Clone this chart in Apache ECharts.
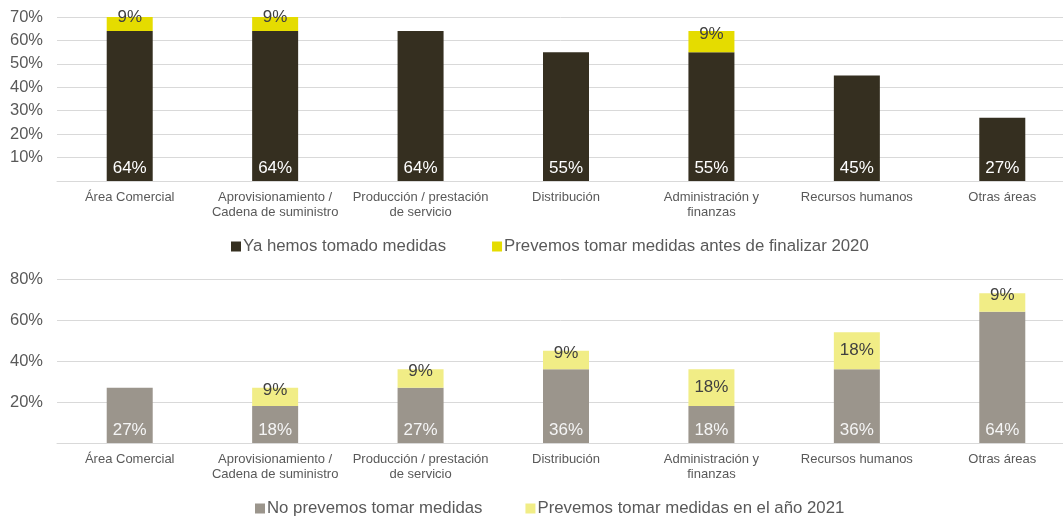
<!DOCTYPE html>
<html>
<head>
<meta charset="utf-8">
<script src="https://cdn.jsdelivr.net/npm/echarts@6/dist/echarts.min.js"></script>
<style>
  html, body { margin: 0; padding: 0; background: #fff; }
  #chart { width: 1063px; height: 517px; }
</style>
</head>
<body>
<div id="chart"></div>
<script>
// categorías (eje x)
const categories = [
  'Área Comercial',
  'Aprovisionamiento /\nCadena de suministro',
  'Producción / prestación\nde servicio',
  'Distribución',
  'Administración y\nfinanzas',
  'Recursos humanos',
  'Otras áreas'
]

// gráfico superior
const yaTomado = [64, 64, 64, 55, 55, 45, 27]
const antes2020 = [9, 9, null, null, 9, null, null]

// gráfico inferior
const noPrevemos = [27, 18, 27, 36, 18, 36, 64]
const en2021 = [null, 9, 9, 9, 18, 18, 9]

const textColor = '#595959'
const gridColor = '#d9d9d9'
const font = "'Liberation Sans', Arial, sans-serif"

const chart = echarts.init(document.getElementById('chart'))

const pct = (v) => v === 0 ? '' : v + '%'

// las etiquetas de tramos pequeños van un poco más arriba (como en Excel)
const withOffsets = (arr) => arr.map(v => (v != null && v < 10)
  ? { value: v, label: { offset: [0, -7] } }
  : v)

const xAxisBase = (gridIndex) => ({
  type: 'category',
  gridIndex,
  data: categories,
  axisTick: { show: false },
  axisLine: { lineStyle: { color: gridColor } },
  axisLabel: {
    color: textColor,
    fontFamily: font,
    fontSize: 13,
    lineHeight: 15,
    margin: 9,
    interval: 0
  }
})

const yAxisBase = (gridIndex, max, interval) => ({
  type: 'value',
  gridIndex,
  min: 0,
  max,
  interval,
  axisLine: { show: false },
  axisTick: { show: false },
  splitLine: { lineStyle: { color: gridColor } },
  axisLabel: {
    color: textColor,
    fontFamily: font,
    fontSize: 16.5,
    margin: 14,
    formatter: pct
  }
})

const barBase = (name, data, xi, color, labelColor, pos) => ({
  name,
  type: 'bar',
  stack: 's' + xi,
  xAxisIndex: xi,
  yAxisIndex: xi,
  data,
  barWidth: 46,
  itemStyle: { color },
  label: {
    show: true,
    position: pos,
    distance: 4,
    color: labelColor,
    fontFamily: font,
    fontSize: 17,
    formatter: (p) => p.value == null ? '' : p.value + '%'
  }
})

const legendBase = (top, left, gap, names) => ({
  top,
  left,
  itemWidth: 10,
  itemHeight: 10,
  itemGap: gap,
  icon: 'rect',
  textStyle: { color: textColor, fontFamily: font, fontSize: 16.8, padding: [0, 0, 0, -3] },
  data: names
})

const option = {
  animation: false,
  grid: [
    { left: 57, top: 17, width: 1018, height: 164, outerBoundsMode: 'none' },
    { left: 57, top: 279, width: 1018, height: 164, outerBoundsMode: 'none' }
  ],
  legend: [
    legendBase(233, 226, 46, ['Ya hemos tomado medidas', 'Prevemos tomar medidas antes de finalizar 2020']),
    legendBase(495, 250, 43, ['No prevemos tomar medidas', 'Prevemos tomar medidas en el año 2021'])
  ],
  xAxis: [xAxisBase(0), xAxisBase(1)],
  yAxis: [yAxisBase(0, 70, 10), yAxisBase(1, 80, 20)],
  series: [
    barBase('Ya hemos tomado medidas', yaTomado, 0, '#352f20', '#ffffff', 'insideBottom'),
    barBase('Prevemos tomar medidas antes de finalizar 2020', withOffsets(antes2020), 0, '#e5dc00', '#404040', 'inside'),
    barBase('No prevemos tomar medidas', noPrevemos, 1, '#9b958c', '#f5f5f5', 'insideBottom'),
    barBase('Prevemos tomar medidas en el año 2021', withOffsets(en2021), 1, '#f1ed86', '#404040', 'inside')
  ]
}

chart.setOption(option)
</script>
</body>
</html>
